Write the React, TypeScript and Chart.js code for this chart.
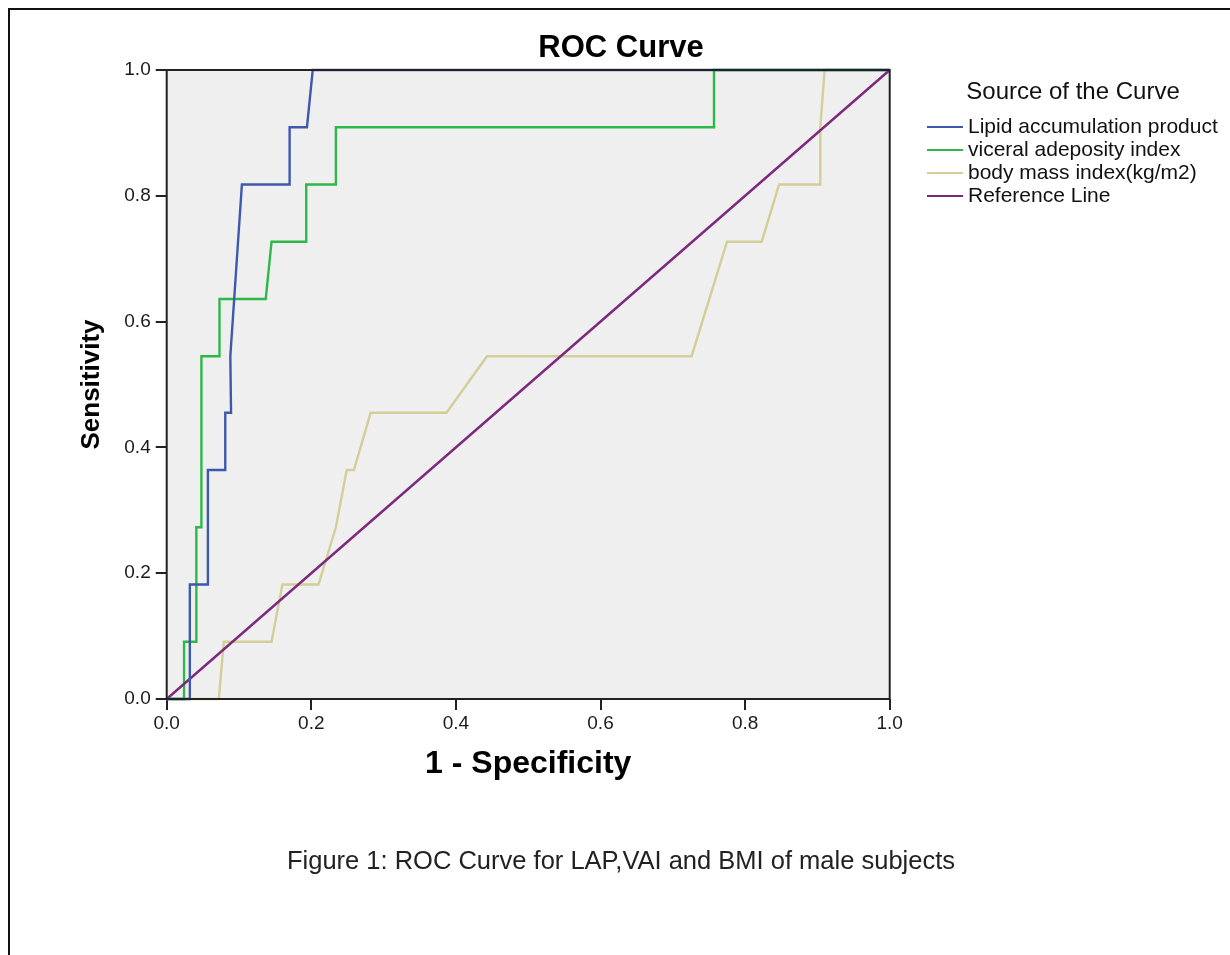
import React, { useEffect, useRef } from "react";
import { Chart, registerables } from "chart.js";

Chart.register(...registerables);

// ---------- data ----------
const chartTitle = "ROC Curve";
const legendTitle = "Source of the Curve";
const captionText = "Figure 1: ROC Curve for LAP,VAI and BMI of male subjects";
const xAxisTitle = "1 - Specificity";
const yAxisTitle = "Sensitivity";

const seriesLabels = [
  "Lipid accumulation product",
  "viceral adeposity index",
  "body mass index(kg/m2)",
  "Reference Line",
];
const seriesColors = ["#3E58AC", "#2EB848", "#D3CE97", "#7C287D"];

const lapFpr = [0, 0.032, 0.032, 0.057, 0.057, 0.081, 0.081, 0.089, 0.088, 0.104, 0.170, 0.170, 0.194, 0.202, 1];
const lapTpr = [0, 0, 0.182, 0.182, 0.364, 0.364, 0.455, 0.455, 0.545, 0.818, 0.818, 0.909, 0.909, 1, 1];

const vaiFpr = [0, 0.024, 0.024, 0.041, 0.041, 0.048, 0.048, 0.073, 0.073, 0.137, 0.145, 0.193, 0.193, 0.234, 0.234, 0.757, 0.757, 1];
const vaiTpr = [0, 0, 0.091, 0.091, 0.273, 0.273, 0.545, 0.545, 0.636, 0.636, 0.727, 0.727, 0.818, 0.818, 0.909, 0.909, 1, 1];

const bmiFpr = [0, 0.072, 0.079, 0.145, 0.160, 0.210, 0.234, 0.249, 0.259, 0.282, 0.387, 0.443, 0.726, 0.775, 0.823, 0.847, 0.904, 0.904, 0.910, 1];
const bmiTpr = [0, 0, 0.091, 0.091, 0.182, 0.182, 0.273, 0.364, 0.364, 0.455, 0.455, 0.545, 0.545, 0.727, 0.727, 0.818, 0.818, 0.909, 1, 1];

const refFpr = [0, 1];
const refTpr = [0, 1];

const axisTicks = [0, 0.2, 0.4, 0.6, 0.8, 1.0];

// ---------- helpers ----------
const FONT = "'Liberation Sans', Arial, Helvetica, sans-serif";
const toPoints = (xs: number[], ys: number[]) => xs.map((x, i) => ({ x, y: ys[i] }));

const decorPlugin = {
  id: "rocDecor",
  beforeDatasetsDraw(chart: any) {
    const { ctx, chartArea: a } = chart;
    ctx.save();
    ctx.fillStyle = "#efefef";
    ctx.fillRect(a.left, a.top, a.right - a.left, a.bottom - a.top);
    ctx.restore();
  },
  afterDatasetsDraw(chart: any) {
    const { ctx, chartArea: a } = chart;
    ctx.save();
    ctx.strokeStyle = "#222";
    ctx.lineWidth = 2;
    ctx.strokeRect(a.left, a.top, a.right - a.left, a.bottom - a.top);
    ctx.restore();
  },
  afterDraw(chart: any) {
    const { ctx } = chart;
    ctx.save();
    // title
    ctx.fillStyle = "#000";
    ctx.font = `bold 31px ${FONT}`;
    ctx.textAlign = "center";
    ctx.textBaseline = "middle";
    ctx.fillText(chartTitle, 609, 48);
    // legend
    ctx.font = `24px ${FONT}`;
    ctx.fillStyle = "#111";
    ctx.fillText(legendTitle, 1061, 92);
    ctx.font = `21px ${FONT}`;
    ctx.textAlign = "left";
    chart.data.datasets.forEach((ds: any, i: number) => {
      const y = 127 + i * 23;
      ctx.strokeStyle = ds.borderColor;
      ctx.lineWidth = 2;
      ctx.beginPath();
      ctx.moveTo(915, y);
      ctx.lineTo(951, y);
      ctx.stroke();
      ctx.fillStyle = "#111";
      ctx.fillText(ds.label, 956, y);
    });
    ctx.restore();
  },
};

export default function App() {
  const canvasRef = useRef<HTMLCanvasElement | null>(null);

  useEffect(() => {
    if (!canvasRef.current) return;
    Chart.defaults.font.family = FONT;
    const series = [
      toPoints(lapFpr, lapTpr),
      toPoints(vaiFpr, vaiTpr),
      toPoints(bmiFpr, bmiTpr),
      toPoints(refFpr, refTpr),
    ];
    const orders = [0, 2, 3, 1];
    const chart = new Chart(canvasRef.current, {
      type: "scatter",
      data: {
        datasets: series.map((pts, i) => ({
          label: seriesLabels[i],
          data: pts,
          showLine: true,
          borderColor: seriesColors[i],
          backgroundColor: seriesColors[i],
          borderWidth: 2.4,
          pointRadius: 0,
          pointHoverRadius: 0,
          tension: 0,
          fill: false,
          clip: 4,
          order: orders[i],
        })),
      },
      options: {
        responsive: false,
        animation: false,
        layout: { padding: { left: 0, right: 340.3, top: 70, bottom: 0 } },
        plugins: {
          legend: { display: false },
          title: { display: false },
          tooltip: { enabled: false },
        },
        scales: {
          x: {
            type: "linear",
            min: 0,
            max: 1,
            afterBuildTicks: (scale: any) => {
              scale.ticks = axisTicks.map((v) => ({ value: v }));
            },
            afterFit: (scale: any) => {
              scale.height = 256;
            },
            ticks: {
              color: "#1a1a1a",
              font: { size: 19 },
              padding: 2,
              maxRotation: 0,
              callback: (v: any) => Number(v).toFixed(1),
            },
            grid: {
              display: true,
              drawOnChartArea: false,
              drawTicks: true,
              tickLength: 11,
              color: "#222",
              lineWidth: 2,
            },
            border: { display: false },
            title: {
              display: true,
              text: xAxisTitle,
              color: "#000",
              font: { size: 32, weight: "bold" },
              padding: { top: 4, bottom: 172 },
            },
          },
          y: {
            type: "linear",
            min: 0,
            max: 1,
            afterBuildTicks: (scale: any) => {
              scale.ticks = axisTicks.map((v) => ({ value: v }));
            },
            afterFit: (scale: any) => {
              scale.width = 154.7;
            },
            ticks: {
              color: "#1a1a1a",
              font: { size: 19 },
              padding: 5,
              callback: (v: any) => Number(v).toFixed(1),
            },
            grid: {
              display: true,
              drawOnChartArea: false,
              drawTicks: true,
              tickLength: 11,
              color: "#222",
              lineWidth: 2,
            },
            border: { display: false },
            title: {
              display: true,
              text: yAxisTitle,
              color: "#000",
              font: { size: 26, weight: "bold" },
              padding: { top: 64.4, bottom: 4 },
            },
          },
        },
      },
      plugins: [decorPlugin],
    });
    return () => chart.destroy();
  }, []);

  return (
    <div style={{ position: "fixed", left: 0, top: 0, width: 1230, height: 955, overflow: "hidden", background: "#fff" }}>
      <div
        style={{
          position: "absolute",
          left: 8,
          top: 8,
          right: 0,
          bottom: 0,
          borderTop: "2px solid #111",
          borderLeft: "2px solid #111",
        }}
      />
      <canvas
        ref={canvasRef}
        width={1218}
        height={955}
        style={{ position: "absolute", left: 12, top: 0, width: 1218, height: 955, display: "block" }}
      />
      <div
        style={{
          position: "absolute",
          left: 12,
          top: 845,
          width: 1218,
          textAlign: "center",
          fontFamily: FONT,
          fontSize: 25.5,
          lineHeight: "30px",
          color: "#222",
        }}
      >
        {captionText}
      </div>
    </div>
  );
}
